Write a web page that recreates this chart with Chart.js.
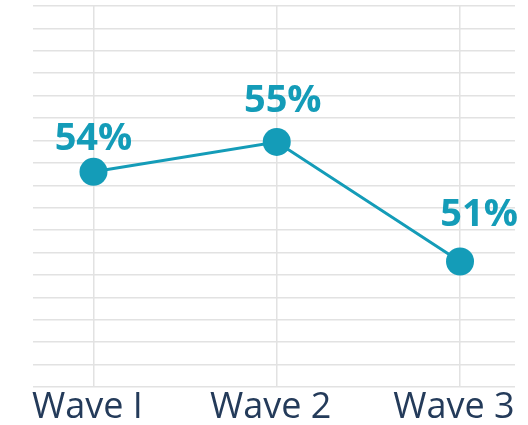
<!DOCTYPE html>
<html>
<head>
<meta charset="utf-8">
<script src="https://cdn.jsdelivr.net/npm/chart.js@4"></script>
<style>
    body { margin: 0; background: #fff; }
    #wrap { width: 528px; height: 425px; position: relative; }
</style>
</head>
<body>
<div id="wrap"><canvas id="graficoOndas"></canvas></div>
<script>
// dados do grafico
const categorias = ["Wave I", "Wave 2", "Wave 3"];
const valores = [54, 55, 51];

const corLinha = "#149cb8";

// rotulos de valor acima dos pontos
const rotulosPlugin = {
    id: "rotulos",
    afterDatasetsDraw(chart, args, opts) {
        const ctx = chart.ctx;
        const meta = chart.getDatasetMeta(0);
        ctx.save();
        ctx.font = "bold 38px 'Open Sans'";
        ctx.fillStyle = corLinha;
        ctx.textAlign = "center";
        ctx.textBaseline = "alphabetic";
        meta.data.forEach((pt, i) => {
            const dx = opts.dx[i] || 0;
            const dy = opts.dy[i] || 0;
            ctx.fillText(valores[i] + "%", pt.x + dx, pt.y + dy);
        });
        ctx.restore();
    }
};

document.addEventListener("DOMContentLoaded", () => {

    const ctx = document.getElementById("graficoOndas");

    new Chart(ctx, {
        type: "line",
        data: {
            datasets: [
                {
                    data: valores.map((v, i) => ({ x: i, y: v })),
                    borderColor: corLinha,
                    backgroundColor: corLinha,
                    borderWidth: 3,
                    pointRadius: 14,
                    pointHoverRadius: 14,
                    pointBorderWidth: 0,
                    pointBackgroundColor: corLinha,
                    fill: false,
                    tension: 0,
                    clip: false
                }
            ]
        },
        options: {
            responsive: true,
            maintainAspectRatio: false,
            animation: false,
            layout: {
                autoPadding: false,
                padding: { left: 33, right: 13, top: 6, bottom: 0 }
            },
            plugins: {
                legend: { display: false },
                tooltip: { enabled: false },
                rotulos: { dx: [0, 6, 19], dy: [-22, -30, -35] }
            },
            scales: {
                x: {
                    type: "linear",
                    min: -0.33,
                    max: 2.3,
                    afterFit: (s) => {
                        s.height = 38;
                        s.paddingLeft = 0;
                        s.paddingRight = 0;
                    },
                    ticks: {
                        stepSize: 1,
                        includeBounds: false,
                        autoSkip: false,
                        maxRotation: 0,
                        padding: 3,
                        labelOffset: -6,
                        color: "#243b5a",
                        font: { family: "'Open Sans'", size: 36, lineHeight: 1 },
                        callback: (v) => Number.isInteger(v) ? categorias[v] : ""
                    },
                    grid: { color: "#e2e2e2", lineWidth: 1.5, drawTicks: false },
                    border: { display: false }
                },
                y: {
                    min: 46.8,
                    max: 59.55,
                    afterFit: (s) => {
                        s.paddingTop = 0;
                        s.paddingBottom = 0;
                    },
                    ticks: { display: false, stepSize: 0.75 },
                    grid: { color: "#e2e2e2", lineWidth: 1.5, drawTicks: false },
                    border: { display: false }
                }
            }
        },
        plugins: [rotulosPlugin]
    });

});
</script>
</body>
</html>
